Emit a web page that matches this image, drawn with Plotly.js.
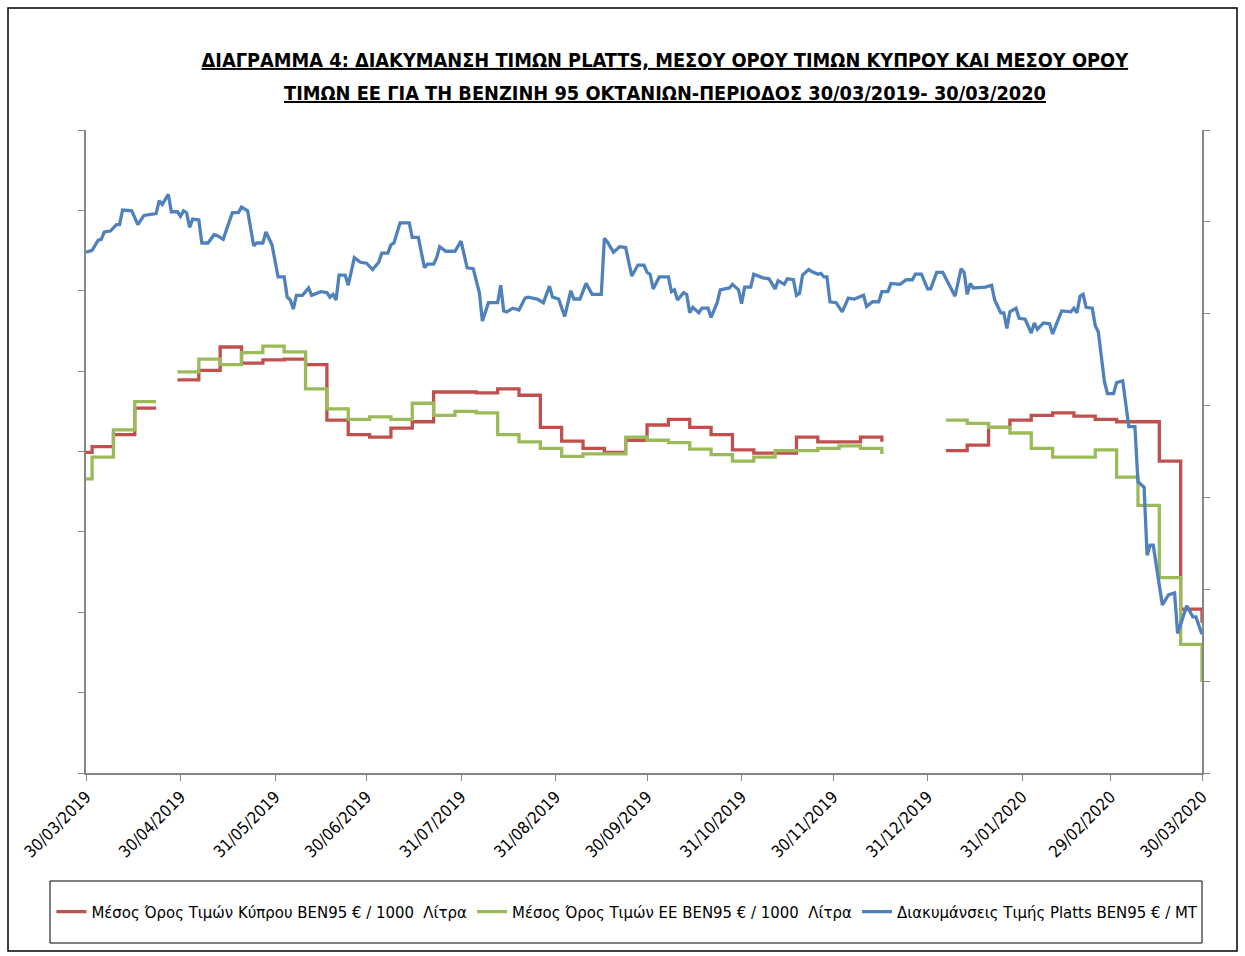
<!DOCTYPE html>
<html>
<head>
<meta charset="utf-8">
<script src="https://cdn.plot.ly/plotly-3.0.1.min.js"></script>
<style>
  html, body { margin: 0; padding: 0; background: #ffffff; }
  #chart { width: 1245px; height: 956px; }
</style>
</head>
<body>
<div id="chart"></div>
<script>
// ---- Weekly average prices (€ / 1000 litres), left axis ----
const fuelDates = [
  '2019-03-30','2019-04-01','2019-04-08','2019-04-15','2019-04-22','2019-04-25',
  '2019-04-29','2019-05-06','2019-05-13','2019-05-20','2019-05-27','2019-06-03',
  '2019-06-10','2019-06-17','2019-06-24','2019-07-01','2019-07-08','2019-07-15',
  '2019-07-22','2019-07-29','2019-08-05','2019-08-12','2019-08-19','2019-08-26',
  '2019-09-02','2019-09-09','2019-09-16','2019-09-23','2019-09-30','2019-10-07',
  '2019-10-14','2019-10-21','2019-10-28','2019-11-04','2019-11-11','2019-11-18',
  '2019-11-25','2019-12-02','2019-12-09','2019-12-16','2019-12-28',
  '2020-01-06','2020-01-13','2020-01-20','2020-01-27','2020-02-03','2020-02-10',
  '2020-02-17','2020-02-24','2020-03-02','2020-03-09','2020-03-16','2020-03-23','2020-03-30'
];
const cyprusAvg = [
  599,606,621,654,654,null,
  689,701,730,710,714,715,
  708,639,621,618,629,637,
  674,674,673,678,670,630,
  613,604,599,614,633,640,
  630,621,602,598,598,618,
  612,612,618,612,null,
  601,608,630,639,645,648,
  644,640,637,637,588,404,387
];
const euAvg = [
  566,593,627,662,662,null,
  699,715,708,723,731,724,
  678,653,640,643,640,660,
  645,650,648,621,612,604,
  594,597,597,618,614,611,
  603,596,588,593,601,601,
  604,607,604,597,null,
  639,635,630,623,604,593,
  593,602,568,533,443,360,313
];

// ---- Platts quotation (€ / MT), right axis ----
const plattsDates = [
  '2019-03-30','2019-04-01','2019-04-03','2019-04-04','2019-04-05','2019-04-07','2019-04-09','2019-04-10',
  '2019-04-11','2019-04-14','2019-04-16','2019-04-18','2019-04-22','2019-04-23','2019-04-24','2019-04-26',
  '2019-04-27','2019-04-29','2019-04-30','2019-05-01','2019-05-02','2019-05-03','2019-05-04','2019-05-06',
  '2019-05-07','2019-05-09','2019-05-11','2019-05-12','2019-05-14','2019-05-17','2019-05-19','2019-05-20',
  '2019-05-22','2019-05-24','2019-05-25','2019-05-27','2019-05-28','2019-05-30','2019-06-01','2019-06-03',
  '2019-06-04','2019-06-05','2019-06-06','2019-06-07','2019-06-09','2019-06-11','2019-06-12','2019-06-15',
  '2019-06-17','2019-06-18','2019-06-19','2019-06-20','2019-06-21','2019-06-23','2019-06-24','2019-06-26',
  '2019-06-28','2019-06-30','2019-07-02','2019-07-04','2019-07-05','2019-07-07','2019-07-08','2019-07-09',
  '2019-07-11','2019-07-14','2019-07-15','2019-07-17','2019-07-19','2019-07-20','2019-07-22','2019-07-23',
  '2019-07-24','2019-07-26','2019-07-29','2019-07-31','2019-08-02','2019-08-04','2019-08-06','2019-08-07',
  '2019-08-09','2019-08-12','2019-08-13','2019-08-14','2019-08-15','2019-08-17','2019-08-19','2019-08-21',
  '2019-08-22','2019-08-25','2019-08-27','2019-08-29','2019-08-30','2019-09-01','2019-09-03','2019-09-05',
  '2019-09-06','2019-09-08','2019-09-10','2019-09-12','2019-09-15','2019-09-16','2019-09-17','2019-09-19',
  '2019-09-21','2019-09-23','2019-09-24','2019-09-25','2019-09-27','2019-09-29','2019-09-30','2019-10-01',
  '2019-10-02','2019-10-04','2019-10-07','2019-10-08','2019-10-09','2019-10-10','2019-10-12','2019-10-13',
  '2019-10-14','2019-10-15','2019-10-17','2019-10-18','2019-10-20','2019-10-21','2019-10-23','2019-10-24',
  '2019-10-27','2019-10-28','2019-10-30','2019-10-31','2019-11-01','2019-11-03','2019-11-04','2019-11-07',
  '2019-11-09','2019-11-11','2019-11-12','2019-11-14','2019-11-15','2019-11-17','2019-11-18','2019-11-19',
  '2019-11-20','2019-11-22','2019-11-23','2019-11-25','2019-11-26','2019-11-27','2019-11-28','2019-11-29',
  '2019-12-01','2019-12-03','2019-12-05','2019-12-07','2019-12-10','2019-12-11','2019-12-13','2019-12-15',
  '2019-12-16','2019-12-18','2019-12-19','2019-12-22','2019-12-24','2019-12-26','2019-12-27','2019-12-29',
  '2019-12-31','2020-01-01','2020-01-03','2020-01-05','2020-01-09','2020-01-11','2020-01-12','2020-01-13',
  '2020-01-14','2020-01-15','2020-01-19','2020-01-21','2020-01-22','2020-01-24','2020-01-25','2020-01-26',
  '2020-01-27','2020-01-29','2020-01-30','2020-02-01','2020-02-03','2020-02-04','2020-02-05','2020-02-07',
  '2020-02-09','2020-02-10','2020-02-12','2020-02-13','2020-02-16','2020-02-17','2020-02-18','2020-02-19',
  '2020-02-20','2020-02-21','2020-02-23','2020-02-24','2020-02-25','2020-02-27','2020-02-28','2020-03-01',
  '2020-03-02','2020-03-04','2020-03-06','2020-03-08','2020-03-09','2020-03-11','2020-03-12','2020-03-13',
  '2020-03-14','2020-03-16','2020-03-17','2020-03-19','2020-03-21','2020-03-22','2020-03-25','2020-03-27',
  '2020-03-28','2020-03-30'
];
const plattsValues = [
  567,569,580,581,589,590,597,597,
  613,612,597,607,609,623,619,630,
  611,611,606,612,610,594,603,602,
  577,577,586,585,581,610,610,616,
  612,574,577,577,589,575,540,540,
  518,515,505,520,520,528,520,524,
  523,518,521,515,542,542,531,561,
  556,555,548,556,566,566,575,577,
  599,599,583,583,550,554,554,561,
  573,568,568,579,550,549,523,492,
  512,512,531,503,502,506,504,517,
  518,516,512,530,518,516,497,525,
  516,516,533,521,521,582,578,567,
  573,572,556,541,553,553,545,543,
  527,540,540,524,526,515,523,521,
  501,507,501,506,506,496,512,526,
  528,532,526,511,529,529,543,539,
  538,527,536,532,538,537,520,522,
  542,548,546,543,544,540,540,513,
  512,502,517,516,520,508,513,513,
  524,524,533,532,537,537,543,543,
  527,527,545,545,519,549,545,521,
  533,528,529,531,515,501,501,484,
  502,506,495,494,479,490,483,490,
  489,478,495,503,502,506,501,519,
  521,507,506,487,480,426,413,413,
  425,427,377,377,317,311,237,248,
  248,207,183,194,196,152,182,170,
  170,151
];

// ---- Axis tick labels ----
const tickDates = ['2019-03-30','2019-04-30','2019-05-31','2019-06-30','2019-07-31','2019-08-31',
  '2019-09-30','2019-10-31','2019-11-30','2019-12-31','2020-01-31','2020-02-29','2020-03-30'];
const tickLabels = ['30/03/2019','30/04/2019','31/05/2019','30/06/2019','31/07/2019','31/08/2019',
  '30/09/2019','31/10/2019','30/11/2019','31/12/2019','31/01/2020','29/02/2020','30/03/2020'];

const seriesNames = [
  'Μέσος Όρος Τιμών Κύπρου ΒΕΝ95 € / 1000  Λίτρα',
  'Μέσος Όρος Τιμών ΕΕ ΒΕΝ95 € / 1000  Λίτρα',
  'Διακυμάνσεις Τιμής Platts ΒΕΝ95 € / ΜΤ'
];

const titleLine1 = 'ΔΙΑΓΡΑΜΜΑ 4: ΔΙΑΚΥΜΑΝΣΗ ΤΙΜΩΝ PLATTS, ΜΕΣΟΥ ΟΡΟΥ ΤΙΜΩΝ ΚΥΠΡΟΥ ΚΑΙ ΜΕΣΟΥ ΟΡΟΥ';
const titleLine2 = 'ΤΙΜΩΝ ΕΕ ΓΙΑ ΤΗ ΒΕΝΖΙΝΗ 95 ΟΚΤΑΝΙΩΝ-ΠΕΡΙΟΔΟΣ 30/03/2019- 30/03/2020';

const FONT = '"Liberation Sans Narrow", "DejaVu Sans Condensed", Arial, sans-serif';

const traces = [
  { x: fuelDates, y: cyprusAvg, name: seriesNames[0], type: 'scatter', mode: 'lines',
    line: { color: '#C0504D', width: 3.3, shape: 'hv' }, connectgaps: false, yaxis: 'y' },
  { x: fuelDates, y: euAvg, name: seriesNames[1], type: 'scatter', mode: 'lines',
    line: { color: '#9BBB59', width: 3.3, shape: 'hv' }, connectgaps: false, yaxis: 'y' },
  { x: plattsDates, y: plattsValues, name: seriesNames[2], type: 'scatter', mode: 'lines',
    line: { color: '#4F81BD', width: 3.3 }, yaxis: 'y2' }
];

const axisGrey = '#868686';

const layout = {
  width: 1245, height: 956,
  margin: { l: 86, r: 43, t: 130, b: 183, pad: 0 },
  paper_bgcolor: '#ffffff', plot_bgcolor: '#ffffff',
  font: { family: FONT, size: 15, color: '#000000' },
  title: {
    text: '<b><u>' + titleLine1 + '</u></b>',
    font: { family: FONT, size: 19.8, color: '#000000' },
    x: 0.534, xref: 'container', xanchor: 'center',
    y: 1 - 60/956, yref: 'container', yanchor: 'middle'
  },
  annotations: [
    { text: '<b><u>' + titleLine2 + '</u></b>', xref: 'paper', yref: 'paper',
      x: (665-86)/1116, y: (773-93)/643, xanchor: 'center', yanchor: 'middle',
      showarrow: false, font: { family: FONT, size: 19.8, color: '#000000' } }
  ],
  showlegend: true,
  legend: {
    orientation: 'h', x: -0.031, xanchor: 'left', y: -0.216, yanchor: 'middle',
    bgcolor: 'rgba(0,0,0,0)', borderwidth: 0,
    font: { family: FONT, size: 16.6, color: '#000000' },
    tracegroupgap: 0, itemwidth: 30
  },
  xaxis: {
    type: 'date',
    range: ['2019-03-30', '2020-03-30'],
    tickmode: 'array', tickvals: tickDates, ticktext: tickLabels,
    tickangle: -45, ticks: 'outside', ticklen: 6, tickcolor: axisGrey, tickwidth: 1,
    showline: true, linecolor: axisGrey, linewidth: 1.5,
    showgrid: false, zeroline: false, automargin: false,
    tickfont: { family: FONT, size: 16.5, color: '#000000' }
  },
  yaxis: {
    range: [200, 1000], dtick: 100, tick0: 200,
    showticklabels: false, ticks: 'outside', ticklen: 6, tickcolor: axisGrey,
    showline: true, linecolor: axisGrey, linewidth: 1.5,
    showgrid: false, zeroline: false, automargin: false
  },
  yaxis2: {
    overlaying: 'y', side: 'right',
    range: [0, 700], dtick: 100, tick0: 0,
    showticklabels: false, ticks: 'outside', ticklen: 6, tickcolor: axisGrey,
    showline: true, linecolor: axisGrey, linewidth: 1.5,
    showgrid: false, zeroline: false, automargin: false
  },
  shapes: [
    { type: 'rect', xref: 'paper', yref: 'paper',
      x0: (8-86)/1116, x1: (1237-86)/1116, y0: (773-951)/643, y1: (773-8)/643,
      line: { color: '#000000', width: 1.5 }, fillcolor: 'rgba(0,0,0,0)', layer: 'below' },
    { type: 'rect', xref: 'paper', yref: 'paper',
      x0: (50-86)/1116, x1: (1202-86)/1116, y0: (773-943)/643, y1: (773-881)/643,
      line: { color: '#000000', width: 1 }, fillcolor: 'rgba(0,0,0,0)', layer: 'below' }
  ]
};

Plotly.newPlot('chart', traces, layout, { displayModeBar: false, responsive: false });
</script>
</body>
</html>
